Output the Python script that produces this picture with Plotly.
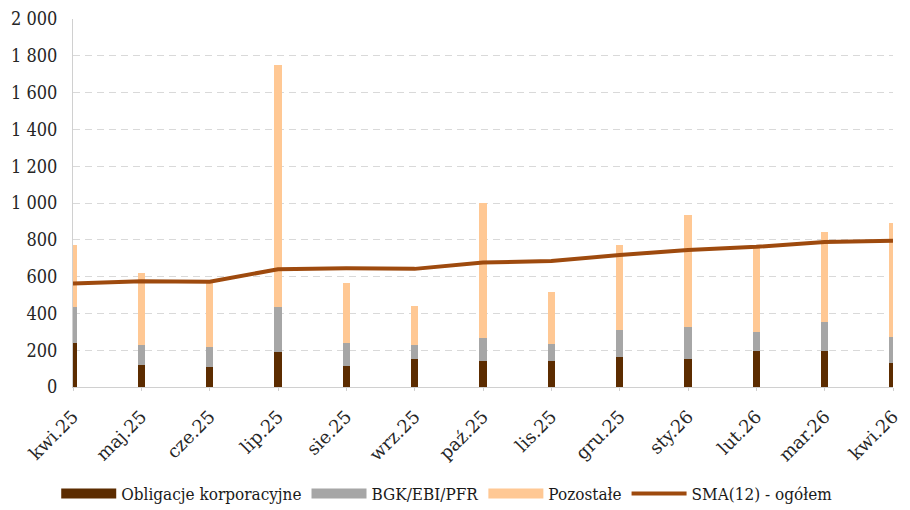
import plotly.graph_objects as go

categories = ["kwi.25", "maj.25", "cze.25", "lip.25", "sie.25", "wrz.25", "paź.25",
              "lis.25", "gru.25", "sty.26", "lut.26", "mar.26", "kwi.26"]
obligacje = [237, 118, 107, 192, 116, 150, 143, 143, 161, 150, 196, 196, 132]
bgk = [196, 110, 112, 244, 121, 78, 125, 91, 149, 178, 105, 156, 142]
pozostale = [339, 390, 353, 1314, 328, 214, 730, 284, 462, 607, 453, 492, 619]
sma = [563, 575, 572, 640, 645, 642, 676, 685, 717, 745, 762, 788, 795]

series_names = ["Obligacje korporacyjne", "BGK/EBI/PFR", "Pozostałe", "SMA(12) - ogółem"]
colors = ["#5C2C00", "#A6A6A6", "#FFC894", "#9E4A0E"]

cond = "DejaVu Serif Condensed, DejaVu Serif, serif"
wide = "DejaVu Serif, serif"

fig = go.Figure()
for vals, name, col in zip([obligacje, bgk, pozostale], series_names[:3], colors[:3]):
    fig.add_trace(go.Bar(x=categories, y=vals, name=name, showlegend=False,
                         marker=dict(color=col, line=dict(width=0)), width=0.11))
fig.add_trace(go.Scatter(x=categories, y=sma, name=series_names[3], mode="lines",
                         showlegend=False, line=dict(color=colors[3], width=4)))
# legend entries (wide swatches like the reference)
for name, col, lw in zip(series_names, colors, [14, 14, 14, 4]):
    fig.add_trace(go.Scatter(x=[None], y=[None], name=name, mode="lines",
                             line=dict(color=col, width=lw)))

fig.update_layout(
    width=910, height=510,
    barmode="stack",
    separators=", ",
    paper_bgcolor="white", plot_bgcolor="white",
    margin=dict(l=65, r=25, t=11, b=131),
    font=dict(family=cond, size=17, color="#262626"),
    legend=dict(orientation="h", traceorder="normal",
                xref="container", x=0.053, xanchor="left",
                yref="container", y=0.047, yanchor="middle", itemwidth=55,
                font=dict(family=cond, size=17, color="#1a1a1a"), tracegroupgap=0),
    showlegend=True,
)
fig.update_xaxes(
    type="category", range=[0, 12], tickangle=-45, automargin=False,
    showline=True, linecolor="#D0D0D0", linewidth=1,
    ticks="outside", ticklen=3, tickcolor="#D0D0D0", ticklabelstandoff=8,
    showgrid=False, tickfont=dict(family=wide, size=18, color="#262626"),
)
fig.update_yaxes(
    range=[0, 2000], dtick=200, tickformat=",", automargin=False,
    showline=True, linecolor="#D0D0D0", linewidth=1, ticklabelstandoff=11,
    showgrid=True, gridcolor="#D9D9D9", griddash="7px,5px", gridwidth=1,
    zeroline=False, tickfont=dict(family=cond, size=18, color="#262626"),
)

fig.write_html("out.html")
